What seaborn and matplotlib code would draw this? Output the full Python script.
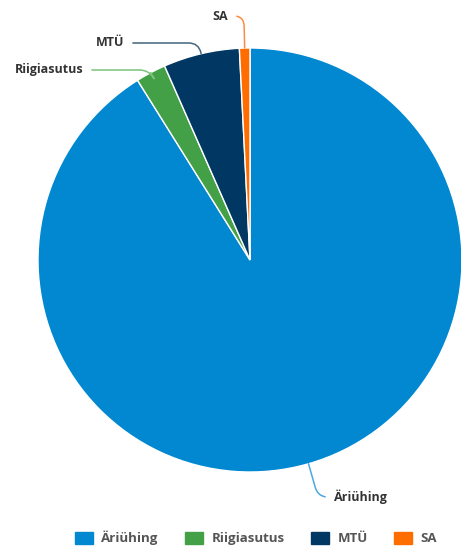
import numpy as np
import matplotlib
matplotlib.use("Agg")
import matplotlib.pyplot as plt
import seaborn as sns

categories = ["Äriühing", "Riigiasutus", "MTÜ", "SA"]
values = [91.1, 2.3, 5.8, 0.8]
colors = ["#0288D1", "#43A047", "#003863", "#FF6D00"]
line_colors = ["#4DA8DF", "#7CC27F", "#44667F", "#FF8A40"]

sns.set_theme(style="white")
plt.rcParams["font.family"] = ["Open Sans", "DejaVu Sans"]

fig = plt.figure(figsize=(4.61, 5.48), dpi=100)
ax = fig.add_axes([38 / 461, 76 / 548, 424 / 461, 424 / 548])
wedges, _ = ax.pie(values, colors=colors, startangle=90, counterclock=False,
                   wedgeprops=dict(edgecolor="white", linewidth=1.0))
ax.set_xlim(-1, 1)
ax.set_ylim(-1, 1)
ax.set_aspect("equal")
ax.axis("off")

# label positions in figure pixels (from bottom-left), alignment
label_pos = {
    "Äriühing": ((334, 51), "left"),
    "Riigiasutus": ((83, 478), "right"),
    "MTÜ": ((124, 505), "right"),
    "SA": ((228, 532), "right"),
}
for w, cat, lc in zip(wedges, categories, line_colors):
    mid = np.deg2rad((w.theta1 + w.theta2) / 2)
    x, y = np.cos(mid), np.sin(mid)
    (tx, ty), ha = label_pos[cat]
    angB = np.rad2deg(mid)
    ax.annotate(cat, xy=(x, y), xycoords="data", xytext=(tx, ty),
                textcoords="figure pixels", ha=ha, va="center",
                fontsize=9, fontweight="bold", color="#333333",
                arrowprops=dict(arrowstyle="-", color=lc, lw=1.1,
                                shrinkA=4, shrinkB=0,
                                connectionstyle=f"angle,angleA=0,angleB={angB:.1f},rad=10"))

handles = [plt.Rectangle((0, 0), 1, 1, color=c) for c in colors]
leg = fig.legend(handles, categories, loc="center", bbox_to_anchor=(0.555, 0.018),
                 ncol=4, frameon=False, fontsize=9.5, handlelength=1.4,
                 handleheight=1.1, handletextpad=0.6, columnspacing=2.0)
for t in leg.get_texts():
    t.set_color("#555555")
    t.set_fontweight("bold")

fig.savefig("out.png", dpi=100)
